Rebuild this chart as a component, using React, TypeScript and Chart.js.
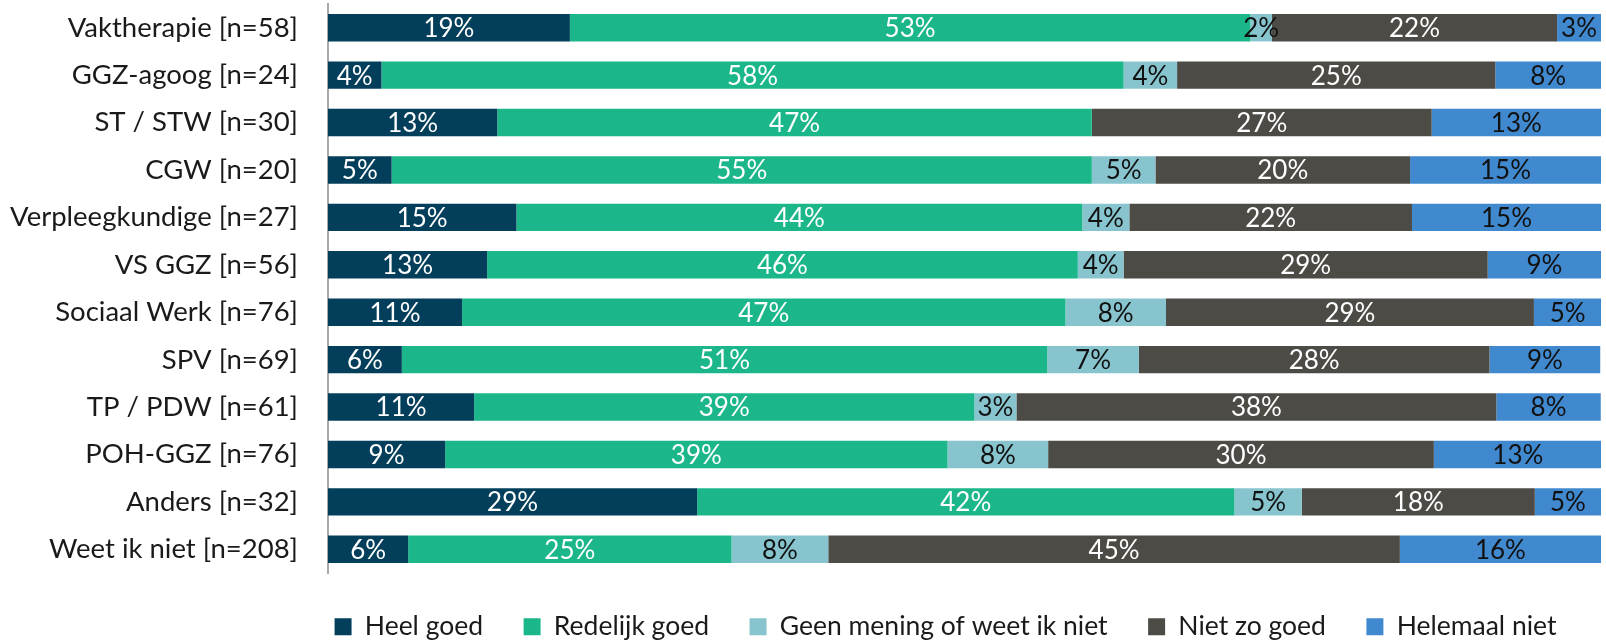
import React, { useEffect, useRef } from "react";
import { Chart, registerables } from "chart.js";

Chart.register(...registerables);

const categories = [
  "Vaktherapie [n=58]",
  "GGZ-agoog [n=24]",
  "ST / STW [n=30]",
  "CGW [n=20]",
  "Verpleegkundige [n=27]",
  "VS GGZ [n=56]",
  "Sociaal Werk [n=76]",
  "SPV [n=69]",
  "TP / PDW [n=61]",
  "POH-GGZ [n=76]",
  "Anders [n=32]",
  "Weet ik niet [n=208]",
];

const seriesNames = [
  "Heel goed",
  "Redelijk goed",
  "Geen mening of weet ik niet",
  "Niet zo goed",
  "Helemaal niet",
];

const heelGoed = [19.0, 4.2, 13.3, 5.0, 14.8, 12.5, 10.53, 5.8, 11.48, 9.2, 29.0, 6.3];
const redelijkGoed = [53.45, 58.3, 46.7, 55.0, 44.45, 46.4, 47.4, 50.7, 39.3, 39.47, 42.2, 25.4];
const geenMening = [1.7, 4.2, 0, 5.0, 3.7, 3.6, 7.9, 7.2, 3.3, 7.9, 5.3, 7.6];
const nietZoGoed = [22.4, 25.0, 26.7, 20.0, 22.2, 28.6, 28.9, 27.54, 37.7, 30.3, 18.3, 44.9];
const helemaalNiet = [3.45, 8.3, 13.3, 15.0, 14.85, 8.9, 5.3, 8.7, 8.2, 13.2, 5.2, 15.8];

const colors = ["#033F5B", "#1BB78A", "#87C4CE", "#4D4B46", "#4189CE"];
const labelColors = ["#ffffff", "#ffffff", "#111111", "#ffffff", "#111111"];

const FONT = "Lato";

const barLabelPlugin = {
  id: "barLabels",
  beforeDraw(chart: any) {
    if (chart.legend) {
      chart.legend.left = 290;
    }
  },
  afterDatasetsDraw(chart: any) {
    const ctx = chart.ctx;
    ctx.save();
    ctx.font = `26px ${FONT}`;
    ctx.textAlign = "center";
    ctx.textBaseline = "middle";
    chart.data.datasets.forEach((ds: any, di: number) => {
      const meta = chart.getDatasetMeta(di);
      meta.data.forEach((el: any, i: number) => {
        const v = ds.data[i];
        if (!v) return;
        const { x, y, base } = el.getProps(["x", "y", "base"], true);
        ctx.fillStyle = labelColors[di];
        ctx.fillText(`${Math.round(v)}%`, (x + base) / 2, y + 1);
      });
    });
    ctx.restore();
  },
};

export default function App() {
  const ref = useRef<HTMLCanvasElement>(null);

  useEffect(() => {
    if (!ref.current) return;
    const seriesData = [heelGoed, redelijkGoed, geenMening, nietZoGoed, helemaalNiet];
    const chart = new Chart(ref.current, {
      type: "bar",
      data: {
        labels: categories,
        datasets: seriesNames.map((name, i) => ({
          label: name,
          data: seriesData[i],
          backgroundColor: colors[i],
          borderWidth: 0,
          barPercentage: 0.578,
          categoryPercentage: 1,
        })),
      },
      options: {
        indexAxis: "y",
        animation: false,
        responsive: false,
        maintainAspectRatio: false,
        layout: { padding: { top: 4, right: 5, left: 0, bottom: 0 } },
        scales: {
          x: {
            stacked: true,
            min: 0,
            max: 100,
            display: false,
          },
          y: {
            stacked: true,
            grid: { display: false, drawTicks: false },
            border: { display: true, color: "#A6ABB0", width: 2 },
            ticks: {
              padding: 30,
              color: "#1a1a1a",
              font: { family: FONT, size: 27.5 },
            },
            afterFit: (scale: any) => {
              scale.width = 328;
              scale.paddingTop = 0;
              scale.paddingBottom = 0;
            },
          },
        },
        plugins: {
          tooltip: { enabled: false },
          legend: {
            position: "bottom",
            maxHeight: 67,
            labels: {
              boxWidth: 17,
              boxHeight: 17,
              padding: 40.5,
              color: "#1a1a1a",
              font: { family: FONT, size: 26.5 },
            },
          },
        },
      },
      plugins: [barLabelPlugin],
    });
    return () => chart.destroy();
  }, []);

  return (
    <div style={{ position: "absolute", left: 0, top: 0, width: 1606, height: 640, background: "#fff" }}>
      <canvas ref={ref} width={1606} height={640} />
    </div>
  );
}
